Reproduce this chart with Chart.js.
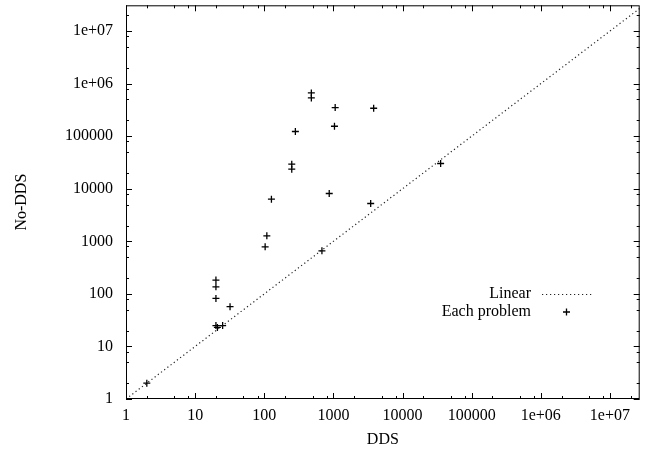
<!DOCTYPE html>
<html lang="en">
<head>
    <meta charset="UTF-8">
    <title>DDS vs No-DDS</title>
    <script src="https://cdn.jsdelivr.net/npm/chart.js"></script>
    <style>
        body { margin: 0; padding: 0; background: #fff; }
        canvas { display: block; }
    </style>
</head>
<body>
<canvas id="myChart" width="645" height="454"></canvas>
<script>
    // Data (DDS on x, No-DDS on y)
    const ddsValues   = [2, 20, 20, 20, 32, 20, 21, 25, 103, 109, 127, 250, 250, 871, 3465, 683, 480, 480, 1062, 3826, 282, 1037, 35600];
    const noDdsValues = [2, 183, 136, 82, 57, 25, 23, 25, 786, 1273, 6340, 29400, 23600, 8140, 5250, 660, 666000, 535000, 351000, 341000, 123000, 155000, 30300];
    const linearX = [1, 2.7e7];
    const linearY = [1, 2.7e7];
    const majorTicks = [1, 10, 100, 1000, 10000, 100000, 1e6, 1e7];
    const minorSteps = [2, 5, 8];

    const FONT = "'Liberation Serif', 'DejaVu Serif', serif";

    function tickLabel(v) {
        if (v < 1e6) return String(v);
        return '1e+0' + Math.round(Math.log10(v));
    }

    // frame, inward ticks (mirrored) and the key
    const framePlugin = {
        id: 'frame',
        afterDraw(chart) {
            const c = chart.ctx, a = chart.chartArea;
            const xs = chart.scales.x, ys = chart.scales.y;
            c.save();
            c.strokeStyle = '#000';
            c.lineWidth = 1;
            c.strokeRect(a.left + 0.5, a.top + 0.5, a.right - a.left - 1, a.bottom - a.top - 1);

            c.beginPath();
            majorTicks.forEach(m => {
                [1].concat(minorSteps).forEach(s => {
                    const v = m * s;
                    const len = s === 1 ? 6 : 3;
                    if (v >= xs.min && v <= xs.max) {
                        const px = Math.round(xs.getPixelForValue(v)) + 0.5;
                        c.moveTo(px, a.bottom); c.lineTo(px, a.bottom - len);
                        c.moveTo(px, a.top); c.lineTo(px, a.top + len);
                    }
                    if (v >= ys.min && v <= ys.max) {
                        const py = Math.round(ys.getPixelForValue(v)) + 0.5;
                        c.moveTo(a.left, py); c.lineTo(a.left + len, py);
                        c.moveTo(a.right, py); c.lineTo(a.right - len, py);
                    }
                });
            });
            c.stroke();

            // key
            c.font = '16px ' + FONT;
            c.fillStyle = '#000';
            c.textAlign = 'right';
            c.textBaseline = 'middle';
            c.fillText('Linear', 531, 294);
            c.fillText('Each problem', 531, 312);
            c.strokeStyle = '#222';
            c.lineWidth = 1.2;
            c.setLineDash([1.2, 2.8]);
            c.beginPath();
            c.moveTo(542, 294.5); c.lineTo(592, 294.5);
            c.stroke();
            c.setLineDash([]);
            c.strokeStyle = '#000';
            c.lineWidth = 1.3;
            c.beginPath();
            c.moveTo(563, 312); c.lineTo(570, 312);
            c.moveTo(566.5, 308.5); c.lineTo(566.5, 315.5);
            c.stroke();
            c.restore();
        }
    };

    const ctx = document.getElementById('myChart').getContext('2d');
    const myChart = new Chart(ctx, {
        type: 'scatter',
        data: {
            datasets: [
                {
                    label: 'Linear',
                    data: linearX.map((x, i) => ({ x: x, y: linearY[i] })),
                    showLine: true,
                    borderColor: '#222',
                    borderWidth: 1.2,
                    borderDash: [1.2, 2.8],
                    pointRadius: 0
                },
                {
                    label: 'Each problem',
                    data: ddsValues.map((x, i) => ({ x: x, y: noDdsValues[i] })),
                    pointStyle: 'cross',
                    pointRadius: 3.5,
                    borderColor: '#000',
                    backgroundColor: '#000',
                    borderWidth: 1.3
                }
            ]
        },
        options: {
            responsive: false,
            animation: false,
            layout: { padding: { top: 4, right: 3, left: 0, bottom: 0 } },
            plugins: {
                legend: { display: false },
                tooltip: { enabled: false }
            },
            scales: {
                x: {
                    type: 'logarithmic',
                    min: 1,
                    max: 2.7e7,
                    afterBuildTicks: s => { s.ticks = majorTicks.map(v => ({ value: v })); },
                    afterFit: s => { s.height = 55; s.paddingLeft = 0; s.paddingRight = 0; },
                    grid: { display: false, drawTicks: false },
                    border: { display: false },
                    ticks: {
                        autoSkip: false, maxRotation: 0, padding: 7,
                        color: '#000', font: { family: FONT, size: 16 },
                        callback: v => tickLabel(v)
                    },
                    title: {
                        display: true, text: 'DDS', color: '#000',
                        font: { family: FONT, size: 16 },
                        padding: { top: 0, bottom: 5 }
                    }
                },
                y: {
                    type: 'logarithmic',
                    min: 1,
                    max: 3.1e7,
                    afterBuildTicks: s => { s.ticks = majorTicks.map(v => ({ value: v })); },
                    afterFit: s => { s.width = 126; s.paddingTop = 0; s.paddingBottom = 0; },
                    grid: { display: false, drawTicks: false },
                    border: { display: false },
                    ticks: {
                        autoSkip: false, padding: 13,
                        color: '#000', font: { family: FONT, size: 16 },
                        callback: v => tickLabel(v)
                    },
                    title: {
                        display: true, text: 'No-DDS', color: '#000',
                        font: { family: FONT, size: 16 },
                        padding: { top: 12, bottom: 0 }
                    }
                }
            }
        },
        plugins: [framePlugin]
    });
</script>
</body>
</html>
